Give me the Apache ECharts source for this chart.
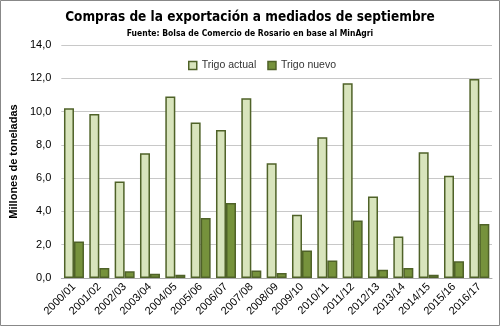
<!DOCTYPE html>
<html><head><meta charset="utf-8">
<script src="https://cdn.jsdelivr.net/npm/echarts@6/dist/echarts.min.js"></script>
<style>html,body{margin:0;padding:0;background:#fff}#c{width:500px;height:326px}</style>
</head><body><div id="c"></div>
<script>
const categories = ['2000/01','2001/02','2002/03','2003/04','2004/05','2005/06','2006/07','2007/08','2008/09','2009/10','2010/11','2011/12','2012/13','2013/14','2014/15','2015/16','2016/17'];
const trigoActual = [10.2, 9.85, 5.8, 7.5, 10.9, 9.35, 8.9, 10.8, 6.9, 3.8, 8.45, 11.7, 4.9, 2.5, 7.55, 6.15, 11.95];
const trigoNuevo = [2.2, 0.6, 0.4, 0.25, 0.2, 3.6, 4.5, 0.45, 0.3, 1.65, 1.05, 3.45, 0.5, 0.6, 0.2, 1.0, 3.25];
const title = 'Compras de la exportación a mediados de septiembre';
const subtitle = 'Fuente: Bolsa de Comercio de Rosario en base al MinAgri';
const yName = 'Millones de toneladas';

const chart = echarts.init(document.getElementById('c'), null, {renderer:'canvas'});
const font = 'Liberation Sans';
const cond = 'DejaVu Sans Condensed';
chart.setOption({
  animation:false,
  backgroundColor:'#fff',
  graphic:[{type:'rect',shape:{x:0.5,y:0.5,width:499,height:325},style:{fill:'none',stroke:'#888',lineWidth:1},silent:true}],
  title:[
    {text:title,left:'center',top:5,textStyle:{fontFamily:cond,fontWeight:'bold',fontSize:13.5,color:'#000'}},
    {text:subtitle,left:'center',top:24,textStyle:{fontFamily:cond,fontWeight:'bold',fontSize:8.5,color:'#000'}}
  ],
  legend:{top:55,left:183,icon:'rect',itemWidth:8,itemHeight:8,itemGap:11,itemTextGap:3,textStyle:{fontFamily:font,fontSize:10.5,color:'#333'},
    data:[{name:'Trigo actual',itemStyle:{borderColor:'#4f6228',borderWidth:1.5}},{name:'Trigo nuevo',itemStyle:{borderColor:'#4f6228',borderWidth:1.5}}]},
  grid:{left:53,right:8,top:45,bottom:48},
  xAxis:{type:'category',data:categories,axisTick:{show:false},axisLine:{lineStyle:{color:'#aaa'}},
    axisLabel:{rotate:45,interval:0,fontFamily:font,fontSize:11,color:'#000',margin:7}},
  yAxis:{type:'value',min:0,max:14,interval:2,name:yName,nameLocation:'middle',nameGap:32,
    nameTextStyle:{fontFamily:font,fontWeight:'bold',fontSize:11,color:'#000'},
    axisLabel:{formatter:v=>v.toFixed(1).replace('.',','),fontFamily:font,fontSize:11,color:'#000',margin:10},
    splitLine:{lineStyle:{color:'#c8c8c8',width:1}},axisLine:{show:false},axisTick:{show:false}},
  series:[
    {name:'Trigo actual',type:'bar',data:trigoActual,barWidth:10,barGap:'0%',itemStyle:{color:'#d8e4bc',borderColor:'#4f6228',borderWidth:1.5}},
    {name:'Trigo nuevo',type:'bar',data:trigoNuevo,barWidth:10,barGap:'0%',itemStyle:{color:'#76923c',borderColor:'#4f6228',borderWidth:1.5}}
  ]
});
</script></body></html>
